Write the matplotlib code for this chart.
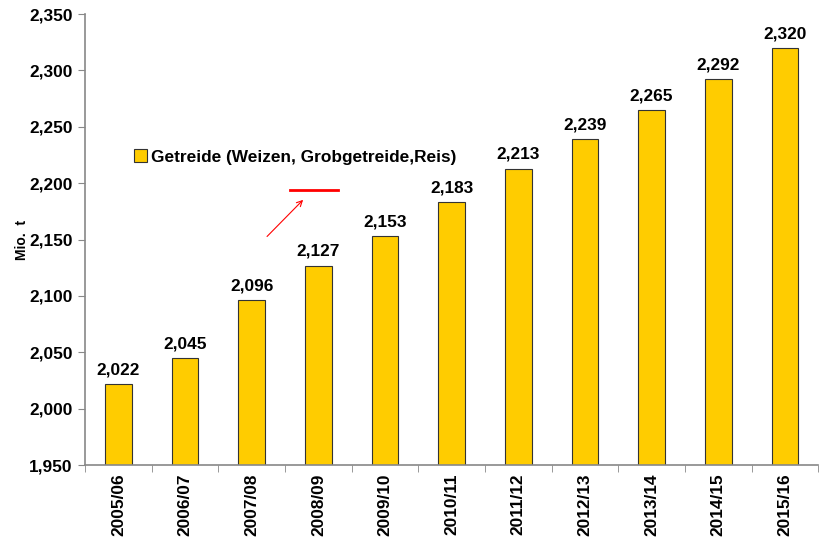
import numpy as np
import matplotlib
matplotlib.use("Agg")
import matplotlib.pyplot as plt

# Data
years = ["2005/06", "2006/07", "2007/08", "2008/09", "2009/10", "2010/11",
         "2011/12", "2012/13", "2013/14", "2014/15", "2015/16"]
values = [2022, 2045, 2096, 2127, 2153, 2183, 2213, 2239, 2265, 2292, 2320]
series_name = "Getreide (Weizen, Grobgetreide,Reis)"

plt.rcParams["font.family"] = ["Liberation Sans", "DejaVu Sans"]
plt.rcParams["font.weight"] = "bold"
fs = 12.4

fig = plt.figure(figsize=(8.19, 5.39), dpi=100)
ax = fig.add_axes([0.104, 0.137, 0.895, 0.837])

x = np.arange(len(years))
bars = ax.bar(x, values, width=0.4, color="#FFCC00", edgecolor="#333333",
              linewidth=0.8, label=series_name, zorder=2)

for xi, v in zip(x, values):
    ax.text(xi, v + 6, f"{v:,}", ha="center", va="bottom",
            fontsize=fs, fontweight="bold")

ax.set_xlim(-0.5, len(years) - 0.5)
ax.set_ylim(1950, 2350)
ax.set_yticks(np.arange(1950, 2351, 50))
ax.set_yticklabels([f"{t:,}" for t in range(1950, 2351, 50)],
                   fontsize=fs, fontweight="bold")

# category labels at bar centres, tick marks between categories
ax.set_xticks(x)
ax.set_xticklabels(years, rotation=90, fontsize=fs, fontweight="bold")
ax.tick_params(axis="x", length=0, pad=6)
ax.set_xticks(np.arange(-0.5, len(years), 1), minor=True)
ax.tick_params(axis="x", which="minor", length=5, color="#888888")
ax.tick_params(axis="y", length=5, color="#888888", pad=4)

for side in ["top", "right"]:
    ax.spines[side].set_visible(False)
for side in ["left", "bottom"]:
    ax.spines[side].set_color("#888888")
    ax.spines[side].set_linewidth(1.2)

ax.set_ylabel("Mio.  t", fontsize=10, fontweight="bold", labelpad=0)

ax.legend(loc="upper left", bbox_to_anchor=(0.045, 0.735), frameon=False,
          handlelength=0.8, handleheight=0.8, handletextpad=0.2,
          prop={"weight": "bold", "size": fs})

# red marker line and arrow
ax.plot([2.58, 3.3], [2194, 2194], color="red", linewidth=2, zorder=3)
ax.annotate("", xy=(2.8, 2187), xytext=(2.2, 2151),
            arrowprops=dict(arrowstyle="->", color="red", lw=0.8))

fig.savefig("out.png", dpi=100)
